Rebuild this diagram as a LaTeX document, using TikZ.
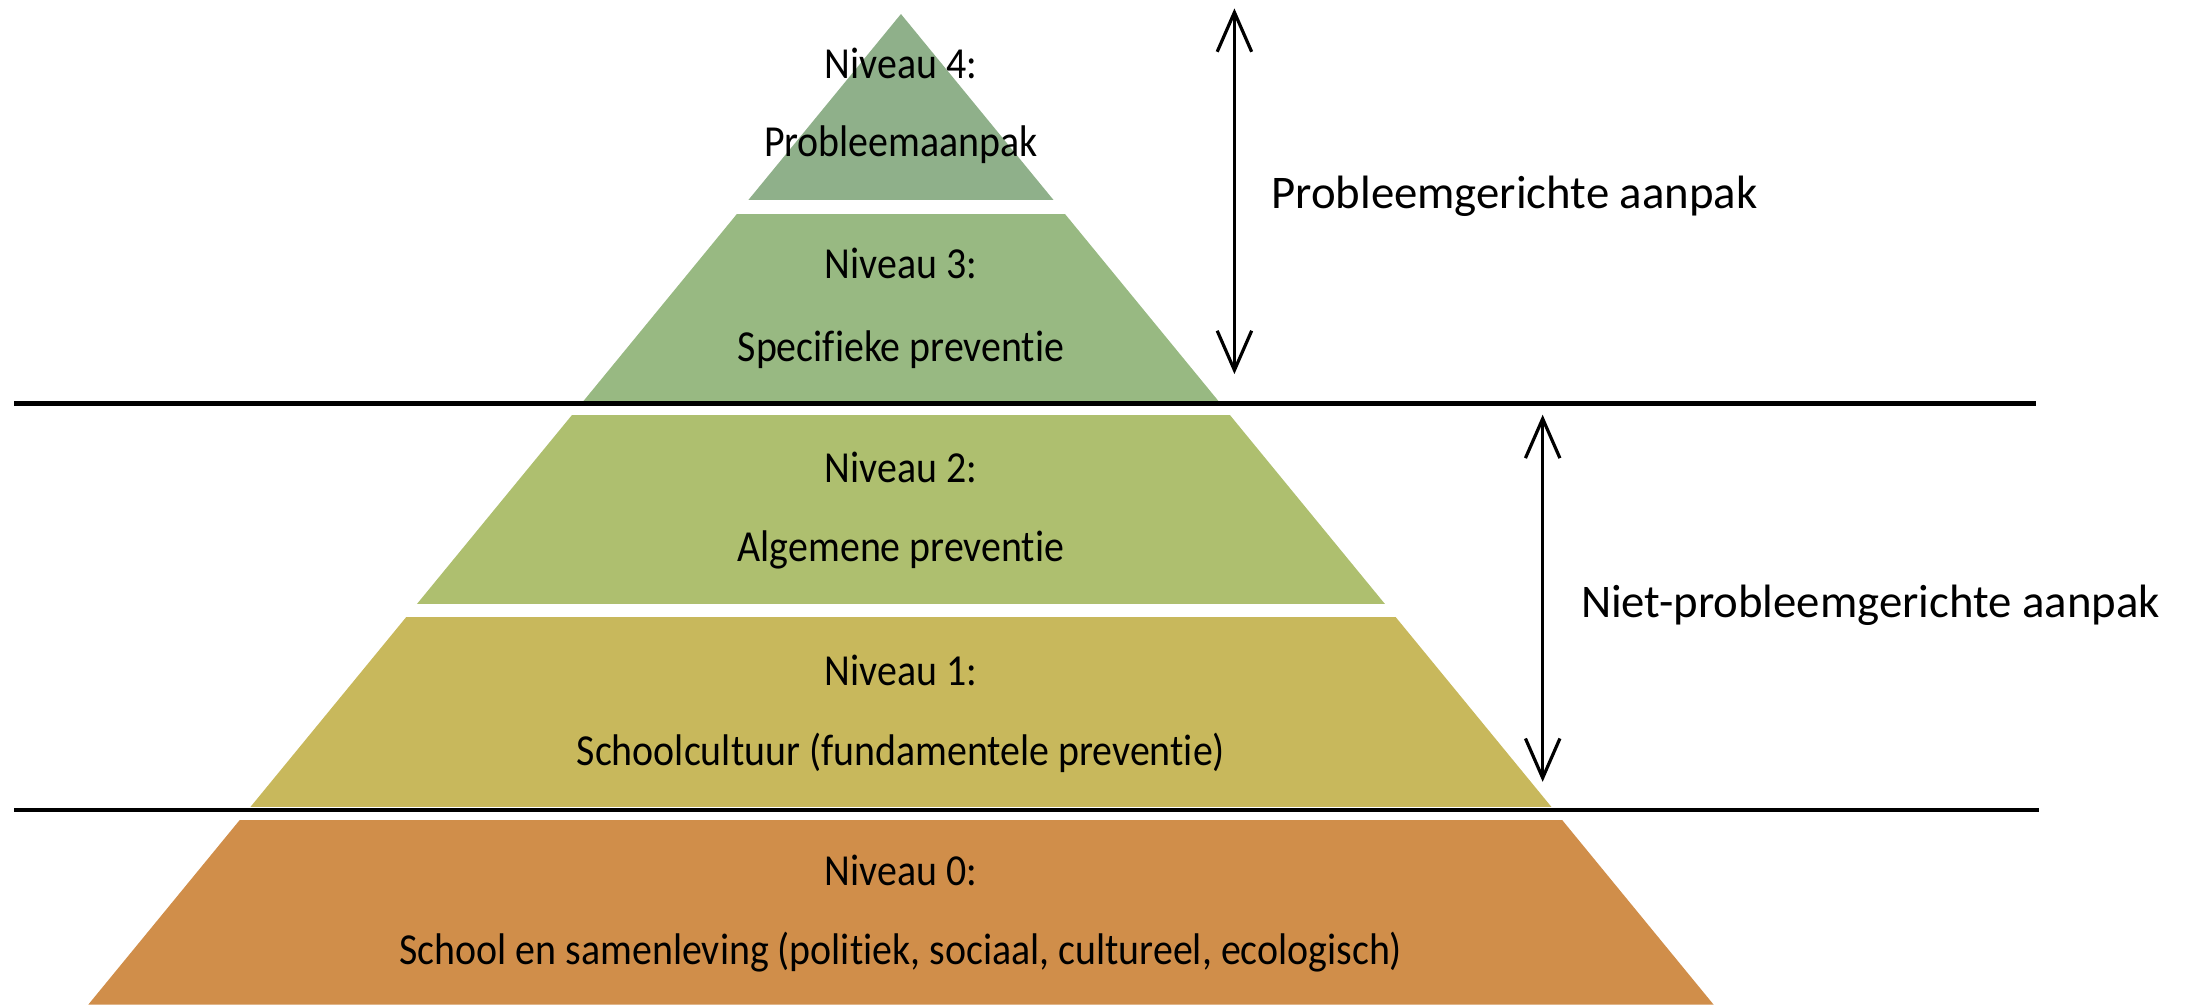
\documentclass[tikz,border=0pt]{standalone}
\usepackage{fontspec}
\setmainfont{Carlito}[Ligatures=NoCommon]
\newfontfamily\pyrfont{Carlito}[FakeStretch=0.9,Ligatures=NoCommon]
\usetikzlibrary{arrows.meta}
\definecolor{cfour}{RGB}{143,176,138}
\definecolor{cthree}{RGB}{152,185,130}
\definecolor{ctwo}{RGB}{174,191,111}
\definecolor{cone}{RGB}{200,184,92}
\definecolor{czero}{RGB}{208,142,74}
\begin{document}
\begin{tikzpicture}[x=0.02cm,y=-0.02cm,
  lvltext/.style={font=\pyrfont\fontsize{18}{21}\selectfont, inner sep=0pt, anchor=base},
  sidetext/.style={font=\fontsize{19}{22}\selectfont, inner sep=0pt, anchor=base west},
  sepline/.style={line width=1.7pt},
  dblarrow/.style={line width=1.3pt, {Straight Barb[length=16pt,width=14pt]}-{Straight Barb[length=16pt,width=14pt]}}]
\useasboundingbox (0,0) rectangle (1568,717);
% pyramid bands
\begin{scope}
  \clip (643,10) -- (63,717) -- (1223,717) -- cycle;
  \fill[cfour]  (0,0)   rectangle (1568,143);
  \fill[cthree] (0,153) rectangle (1568,286);
  \fill[ctwo]   (0,296) rectangle (1568,431);
  \fill[cone]   (0,440) rectangle (1568,576);
  \fill[czero]  (0,585) rectangle (1568,717);
\end{scope}
% separator lines
\coordinate (s1a) at (10,288);
\coordinate (s1b) at (1453,288);
\coordinate (s2a) at (10,578);
\coordinate (s2b) at (1455,578);
\draw[sepline] (s1a) -- (s1b);
\draw[sepline] (s2a) -- (s2b);
% texts
\node[lvltext] (n4a) at (643,56) {Niveau 4:};
\node[lvltext] (n4b) at (643,112) {Probleemaanpak};
\node[lvltext] (n3a) at (643,199) {Niveau 3:};
\node[lvltext] (n3b) at (643,258) {Specifieke preventie};
\node[lvltext] (n2a) at (643,344) {Niveau 2:};
\node[lvltext] (n2b) at (643,401) {Algemene preventie};
\node[lvltext] (n1a) at (643,489) {Niveau 1:};
\node[lvltext] (n1b) at (643,546) {Schoolcultuur (fundamentele preventie)};
\node[lvltext] (n0a) at (643,632) {Niveau 0:};
\node[lvltext] (n0b) at (643,688) {School en samenleving (politiek, sociaal, cultureel, ecologisch)};
% arrows
\coordinate (a1t) at (881,6);
\coordinate (a1b) at (881,267);
\coordinate (a2t) at (1101,296);
\coordinate (a2b) at (1101,558);
\draw[dblarrow] (a1t) -- (a1b);
\draw[dblarrow] (a2t) -- (a2b);
\node[sidetext] (lab1) at (907,149) {Probleemgerichte aanpak};
\node[sidetext] (lab2) at (1128,441) {Niet-probleemgerichte aanpak};
\end{tikzpicture}
\end{document}
